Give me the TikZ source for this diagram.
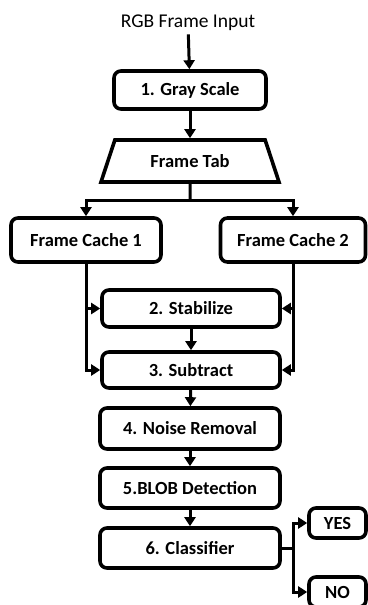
\documentclass[tikz,border=0pt]{standalone}
\usepackage{fontspec}
\setmainfont{Carlito}
\usetikzlibrary{arrows.meta,positioning,shapes.geometric}

\tikzset{
  stepbox/.style={draw, line width=3.6pt, rounded corners=7pt, fill=white,
    font=\fontsize{18.5}{22}\selectfont\bfseries, inner sep=2pt},
  arr/.style={line width=3pt, -{Triangle[width=11pt,length=9pt]}},
  wire/.style={line width=3pt}
}

\begin{document}
\begin{tikzpicture}[x=1pt,y=-1pt]

\useasboundingbox (0,0) rectangle (367,605);

% --- Input and first stage ---
\node[font=\fontsize{19.5}{23}\selectfont] (input) at (188,23) {RGB Frame Input};
\node[stepbox, minimum width=152, minimum height=38] (gray) at (190,90) {1. Gray Scale};
\node[draw, line width=3.6pt, trapezium, trapezium angle=51, trapezium stretches body,
  minimum width=178, minimum height=42, inner sep=2pt,
  font=\fontsize{18.5}{22}\selectfont\bfseries] (tab) at (190,161) {Frame Tab};

% --- Frame caches ---
\node[stepbox, minimum width=150, minimum height=44] (fc1) at (86,240) {Frame Cache 1};
\node[stepbox, minimum width=145, minimum height=44] (fc2) at (293,240) {Frame Cache 2};

% --- Processing chain ---
\node[stepbox, minimum width=178, minimum height=37] (stab) at (191,308.5) {2. Stabilize};
\node[stepbox, minimum width=178, minimum height=36] (sub) at (191,370) {3. Subtract};
\node[stepbox, minimum width=180, minimum height=41] (noise) at (190,428.5) {4. Noise Removal};
\node[stepbox, minimum width=180, minimum height=40] (blob) at (190,488) {5.BLOB Detection};
\node[stepbox, minimum width=180, minimum height=40] (cls) at (190,548) {6. Classifier};

% --- Outcomes ---
\node[stepbox, minimum width=57, minimum height=30] (yes) at (337.5,523) {YES};
\node[stepbox, minimum width=57, minimum height=30] (no) at (337.5,592) {NO};

% Connectors
\coordinate (split) at (190,200);
\coordinate (fork) at (293,548);

\draw[arr] (input) -- (gray);
\draw[arr] (gray) -- (tab);
\draw[wire] (tab.south) -- (split);
\draw[arr] (split) -| (fc1.north);
\draw[arr] (split) -| (fc2.north);

\foreach \dst in {stab,sub}{
  \draw[arr] (fc1.south) |- (\dst.west);
  \draw[arr] (fc2.south) |- (\dst.east);
}

\draw[arr] (stab) -- (sub);
\draw[arr] (sub) -- (noise);
\draw[arr] (noise) -- (blob);
\draw[arr] (blob) -- (cls);

\draw[wire] (cls.east) -- (fork);
\draw[arr] (fork) |- (yes.west);
\draw[arr] (fork) |- (no.west);

\end{tikzpicture}
\end{document}
